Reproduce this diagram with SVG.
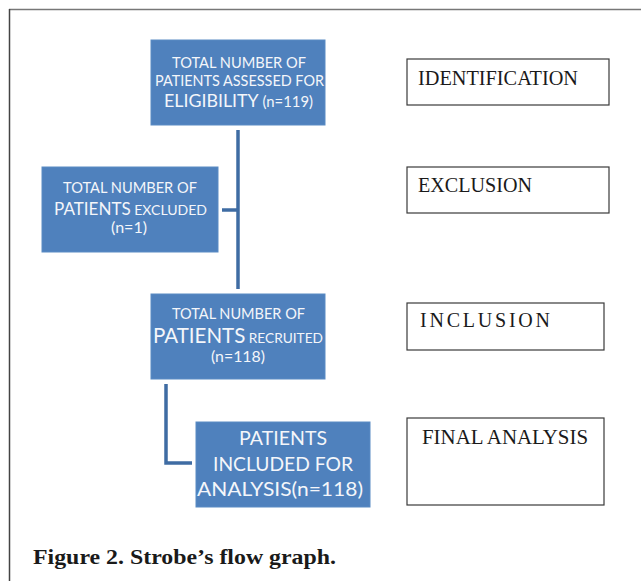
<svg xmlns="http://www.w3.org/2000/svg" width="641" height="581" viewBox="0 0 641 581">
<style>
.blue{fill:#4f81bd;stroke:#5a8bc4;stroke-width:1}
.bt{font-family:Lato,"Liberation Sans",sans-serif;fill:#f4f6fa}
.lab{fill:#fff;stroke:#3a3a3a;stroke-width:1.2}
.lt{font-family:"Liberation Serif","Times New Roman",serif;font-size:20px;fill:#1a1a1a}
.con{fill:none;stroke:#3f6ca3;stroke-width:3.5}
</style>
<rect x="0" y="0" width="641" height="581" fill="#fff"/>
<g id="frame">
<line x1="9" y1="9.5" x2="641" y2="9.5" stroke="#777" stroke-width="1.5"/>
<line x1="9.5" y1="9" x2="9.5" y2="581" stroke="#444" stroke-width="1.5"/>
</g>
<g id="connectors">
<line class="con" x1="238" y1="130" x2="238" y2="289"/>
<line class="con" x1="222" y1="210" x2="238" y2="210"/>
<polyline class="con" points="166,384 166,463 192,463"/>
</g>
<g id="node-assessed">
<rect class="blue" x="151" y="40" width="174" height="85"/>
<text class="bt" x="172" y="68" font-size="15" textLength="134" lengthAdjust="spacingAndGlyphs">TOTAL NUMBER OF</text>
<text class="bt" x="155" y="86" font-size="15" textLength="169" lengthAdjust="spacingAndGlyphs">PATIENTS ASSESSED FOR</text>
<text class="bt" x="164" y="107" textLength="149" lengthAdjust="spacingAndGlyphs"><tspan font-size="18">ELIGIBILITY</tspan><tspan font-size="15"> (n=119)</tspan></text>
</g>
<g id="node-excluded">
<rect class="blue" x="42" y="167" width="176" height="85"/>
<text class="bt" x="63" y="193" font-size="15" textLength="134" lengthAdjust="spacingAndGlyphs">TOTAL NUMBER OF</text>
<text class="bt" x="54" y="215" textLength="153" lengthAdjust="spacingAndGlyphs"><tspan font-size="17">PATIENTS</tspan><tspan font-size="14"> EXCLUDED</tspan></text>
<text class="bt" x="111" y="233" font-size="15" textLength="36" lengthAdjust="spacingAndGlyphs">(n=1)</text>
</g>
<g id="node-recruited">
<rect class="blue" x="151" y="294" width="174" height="85"/>
<text class="bt" x="172" y="319" font-size="15" textLength="133" lengthAdjust="spacingAndGlyphs">TOTAL NUMBER OF</text>
<text class="bt" x="153" y="343" textLength="170" lengthAdjust="spacingAndGlyphs"><tspan font-size="21">PATIENTS</tspan><tspan font-size="14"> RECRUITED</tspan></text>
<text class="bt" x="211" y="362" font-size="15" textLength="54" lengthAdjust="spacingAndGlyphs">(n=118)</text>
</g>
<g id="node-analysis">
<rect class="blue" x="196" y="422" width="174" height="85"/>
<text class="bt" x="239" y="445" font-size="19" textLength="88" lengthAdjust="spacingAndGlyphs">PATIENTS</text>
<text class="bt" x="213" y="471" font-size="19" textLength="140" lengthAdjust="spacingAndGlyphs">INCLUDED FOR</text>
<text class="bt" x="197" y="496" font-size="19" textLength="166" lengthAdjust="spacingAndGlyphs">ANALYSIS(n=118)</text>
</g>
<g id="label-identification">
<rect class="lab" x="407" y="59" width="202" height="46"/>
<text class="lt" x="418" y="85" textLength="160" lengthAdjust="spacingAndGlyphs">IDENTIFICATION</text>
</g>
<g id="label-exclusion">
<rect class="lab" x="407" y="167" width="202" height="46"/>
<text class="lt" x="418" y="192" textLength="114" lengthAdjust="spacingAndGlyphs">EXCLUSION</text>
</g>
<g id="label-inclusion">
<rect class="lab" x="407" y="303" width="197" height="47"/>
<text class="lt" x="420" y="327" font-size="18" textLength="130">INCLUSION</text>
</g>
<g id="label-final">
<rect class="lab" x="407" y="418" width="197" height="87"/>
<text class="lt" x="422" y="444" textLength="166" lengthAdjust="spacingAndGlyphs">FINAL ANALYSIS</text>
</g>
<text x="33" y="564" font-family="'Liberation Serif','Times New Roman',serif" font-weight="bold" font-size="22" fill="#1a1a1a" textLength="303" lengthAdjust="spacingAndGlyphs">Figure 2. Strobe’s flow graph.</text>
</svg>
